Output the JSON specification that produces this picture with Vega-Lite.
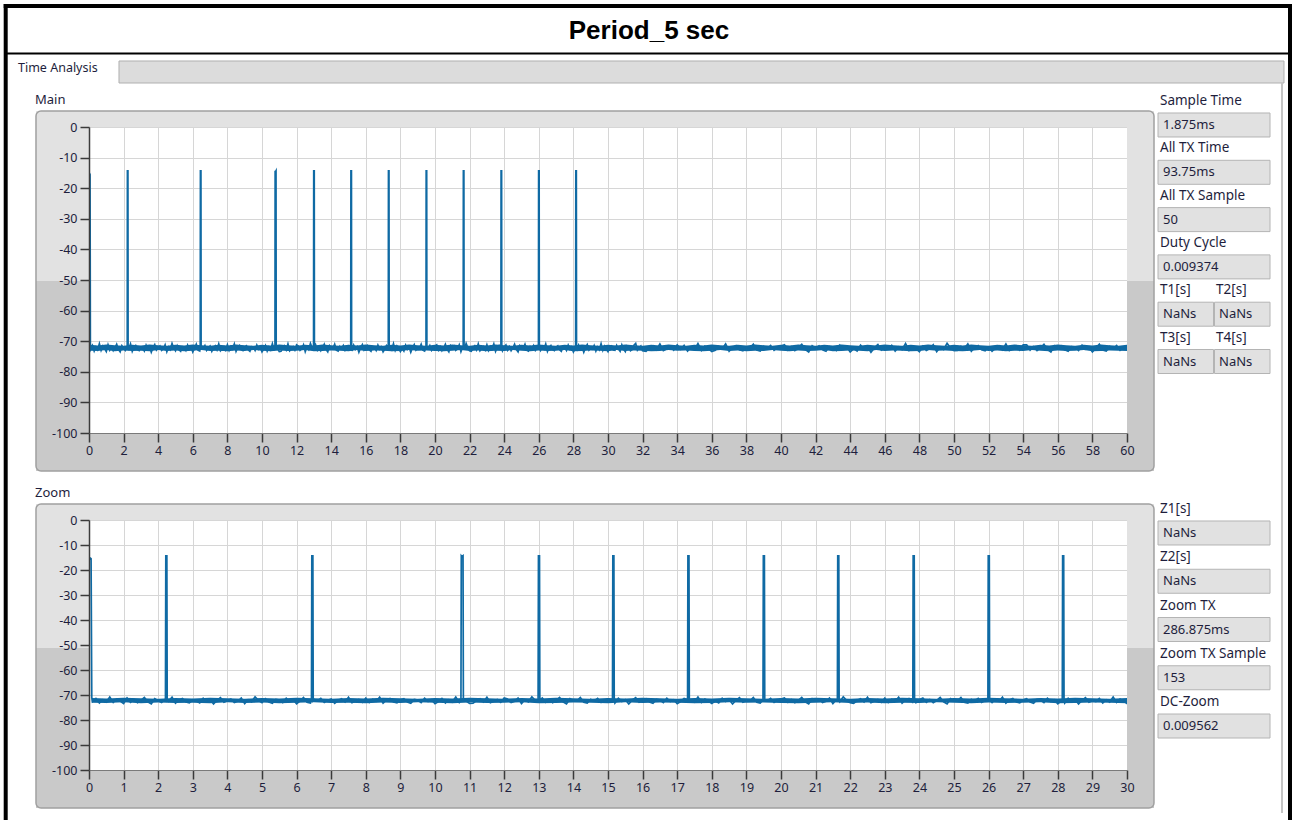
{
"$schema":"https://vega.github.io/schema/vega-lite/v6.json",
"padding":0,
"background":"white",
"columns":2,
"spacing":{"row":87,"column":31},
"bounds":"flush",
"datasets":{
"band":[
{"t":0.08,"hi":-71.2,"lo":-73.1},{"t":0.5,"hi":-71.4,"lo":-73.2},{"t":1.0,"hi":-71.1,"lo":-72.9},{"t":1.5,"hi":-71.3,"lo":-73.3},{"t":2.0,"hi":-71.5,"lo":-73.0},{"t":2.5,"hi":-71.2,"lo":-73.2},{"t":3.0,"hi":-71.4,"lo":-73.1},{"t":3.5,"hi":-71.1,"lo":-73.3},{"t":4.0,"hi":-71.3,"lo":-72.9},{"t":4.5,"hi":-71.5,"lo":-73.2},
{"t":5.0,"hi":-71.2,"lo":-73.0},{"t":5.5,"hi":-71.4,"lo":-73.3},{"t":6.0,"hi":-71.1,"lo":-73.1},{"t":6.5,"hi":-71.3,"lo":-72.9},{"t":7.0,"hi":-71.5,"lo":-73.2},{"t":7.5,"hi":-71.2,"lo":-73.1},{"t":8.0,"hi":-71.4,"lo":-73.3},{"t":8.5,"hi":-71.1,"lo":-73.0},{"t":9.0,"hi":-71.3,"lo":-73.2},{"t":9.5,"hi":-71.5,"lo":-72.9},
{"t":10.0,"hi":-71.2,"lo":-73.1},{"t":10.5,"hi":-71.4,"lo":-73.3},{"t":11.0,"hi":-71.1,"lo":-73.0},{"t":11.5,"hi":-71.3,"lo":-73.2},{"t":12.0,"hi":-71.5,"lo":-73.1},{"t":12.5,"hi":-71.2,"lo":-72.9},{"t":13.0,"hi":-71.4,"lo":-73.3},{"t":13.5,"hi":-71.1,"lo":-73.2},{"t":14.0,"hi":-71.3,"lo":-73.0},{"t":14.5,"hi":-71.5,"lo":-73.1},
{"t":15.0,"hi":-71.2,"lo":-73.3},{"t":15.5,"hi":-71.4,"lo":-72.9},{"t":16.0,"hi":-71.1,"lo":-73.2},{"t":16.5,"hi":-71.3,"lo":-73.0},{"t":17.0,"hi":-71.5,"lo":-73.1},{"t":17.5,"hi":-71.2,"lo":-73.3},{"t":18.0,"hi":-71.4,"lo":-73.2},{"t":18.5,"hi":-71.1,"lo":-72.9},{"t":19.0,"hi":-71.3,"lo":-73.1},{"t":19.5,"hi":-71.5,"lo":-73.0},
{"t":20.0,"hi":-71.2,"lo":-73.2},{"t":20.5,"hi":-71.4,"lo":-73.3},{"t":21.0,"hi":-71.1,"lo":-73.1},{"t":21.5,"hi":-71.3,"lo":-72.9},{"t":22.0,"hi":-71.5,"lo":-73.2},{"t":22.5,"hi":-71.2,"lo":-73.0},{"t":23.0,"hi":-71.4,"lo":-73.3},{"t":23.5,"hi":-71.1,"lo":-73.1},{"t":24.0,"hi":-71.3,"lo":-73.2},{"t":24.5,"hi":-71.5,"lo":-72.9},
{"t":25.0,"hi":-71.2,"lo":-73.1},{"t":25.5,"hi":-71.4,"lo":-73.3},{"t":26.0,"hi":-71.1,"lo":-73.0},{"t":26.5,"hi":-71.3,"lo":-73.2},{"t":27.0,"hi":-71.5,"lo":-73.1},{"t":27.5,"hi":-71.2,"lo":-72.9},{"t":28.0,"hi":-71.4,"lo":-73.3},{"t":28.5,"hi":-71.1,"lo":-73.2},{"t":29.0,"hi":-71.3,"lo":-73.0},{"t":29.5,"hi":-71.5,"lo":-73.1},
{"t":30.0,"hi":-71.2,"lo":-73.3},{"t":30.5,"hi":-71.4,"lo":-72.9},{"t":31.0,"hi":-71.1,"lo":-73.2},{"t":31.5,"hi":-71.3,"lo":-73.0},{"t":32.0,"hi":-71.5,"lo":-73.1},{"t":32.5,"hi":-71.2,"lo":-73.3},{"t":33.0,"hi":-71.4,"lo":-73.2},{"t":33.5,"hi":-71.1,"lo":-72.9},{"t":34.0,"hi":-71.3,"lo":-73.1},{"t":34.5,"hi":-71.5,"lo":-73.0},
{"t":35.0,"hi":-71.2,"lo":-73.2},{"t":35.5,"hi":-71.4,"lo":-73.3},{"t":36.0,"hi":-71.1,"lo":-73.1},{"t":36.5,"hi":-71.3,"lo":-72.9},{"t":37.0,"hi":-71.5,"lo":-73.2},{"t":37.5,"hi":-71.2,"lo":-73.0},{"t":38.0,"hi":-71.4,"lo":-73.3},{"t":38.5,"hi":-71.1,"lo":-73.1},{"t":39.0,"hi":-71.3,"lo":-73.2},{"t":39.5,"hi":-71.5,"lo":-72.9},
{"t":40.0,"hi":-71.2,"lo":-73.1},{"t":40.5,"hi":-71.4,"lo":-73.3},{"t":41.0,"hi":-71.1,"lo":-73.0},{"t":41.5,"hi":-71.3,"lo":-73.2},{"t":42.0,"hi":-71.5,"lo":-73.1},{"t":42.5,"hi":-71.2,"lo":-72.9},{"t":43.0,"hi":-71.4,"lo":-73.3},{"t":43.5,"hi":-71.1,"lo":-73.2},{"t":44.0,"hi":-71.3,"lo":-73.0},{"t":44.5,"hi":-71.5,"lo":-73.1},
{"t":45.0,"hi":-71.2,"lo":-73.3},{"t":45.5,"hi":-71.4,"lo":-72.9},{"t":46.0,"hi":-71.1,"lo":-73.2},{"t":46.5,"hi":-71.3,"lo":-73.0},{"t":47.0,"hi":-71.5,"lo":-73.1},{"t":47.5,"hi":-71.2,"lo":-73.3},{"t":48.0,"hi":-71.4,"lo":-73.2},{"t":48.5,"hi":-71.1,"lo":-72.9},{"t":49.0,"hi":-71.3,"lo":-73.1},{"t":49.5,"hi":-71.5,"lo":-73.0},
{"t":50.0,"hi":-71.2,"lo":-73.2},{"t":50.5,"hi":-71.4,"lo":-73.3},{"t":51.0,"hi":-71.1,"lo":-73.1},{"t":51.5,"hi":-71.3,"lo":-72.9},{"t":52.0,"hi":-71.5,"lo":-73.2},{"t":52.5,"hi":-71.2,"lo":-73.0},{"t":53.0,"hi":-71.4,"lo":-73.3},{"t":53.5,"hi":-71.1,"lo":-73.1},{"t":54.0,"hi":-71.3,"lo":-73.2},{"t":54.5,"hi":-71.5,"lo":-72.9},
{"t":55.0,"hi":-71.2,"lo":-73.1},{"t":55.5,"hi":-71.4,"lo":-73.3},{"t":56.0,"hi":-71.1,"lo":-73.0},{"t":56.5,"hi":-71.3,"lo":-73.2},{"t":57.0,"hi":-71.5,"lo":-73.1},{"t":57.5,"hi":-71.2,"lo":-72.9},{"t":58.0,"hi":-71.4,"lo":-73.3},{"t":58.5,"hi":-71.1,"lo":-73.2},{"t":59.0,"hi":-71.3,"lo":-73.0},{"t":59.5,"hi":-71.5,"lo":-73.1},
{"t":60.0,"hi":-71.2,"lo":-73.2}
],
"sig":[
{"t":0,"v":-15.4},{"t":0.02,"v":-15.6},{"t":0.04,"v":-15.3},{"t":0.06,"v":-15.5},{"t":0.08,"v":-71.0},
{"t":0.1,"v":-72.6},{"t":0.2,"v":-71.4},{"t":0.3,"v":-73.2},{"t":0.4,"v":-71.9},{"t":0.5,"v":-72.8},{"t":0.6,"v":-70.8},{"t":0.7,"v":-73.0},{"t":0.8,"v":-71.6},{"t":0.9,"v":-72.4},{"t":1.0,"v":-73.4},
{"t":1.1,"v":-71.2},{"t":1.2,"v":-72.9},{"t":1.3,"v":-71.8},{"t":1.4,"v":-73.1},{"t":1.5,"v":-72.2},{"t":1.6,"v":-71.0},{"t":1.7,"v":-72.7},{"t":1.8,"v":-73.5},{"t":1.9,"v":-71.5},{"t":2.0,"v":-72.3},
{"t":2.1,"v":-73.0},{"t":2.2,"v":-71.7},{"t":2.21,"v":-71.9},{"t":2.22,"v":-14.3},{"t":2.25,"v":-14.3},{"t":2.26,"v":-72.1},{"t":2.3,"v":-72.5},{"t":2.4,"v":-70.9},{"t":2.5,"v":-73.3},{"t":2.6,"v":-72.0},{"t":2.7,"v":-71.4},{"t":2.8,"v":-72.8},{"t":2.9,"v":-73.1},{"t":3.0,"v":-71.9},
{"t":3.1,"v":-72.4},{"t":3.2,"v":-73.2},{"t":3.3,"v":-71.3},{"t":3.4,"v":-72.6},{"t":3.5,"v":-71.8},{"t":3.6,"v":-73.6},{"t":3.7,"v":-72.1},{"t":3.8,"v":-71.1},{"t":3.9,"v":-72.9},{"t":4.0,"v":-72.3},
{"t":4.1,"v":-71.6},{"t":4.2,"v":-73.0},{"t":4.3,"v":-72.5},{"t":4.4,"v":-71.2},{"t":4.5,"v":-73.4},{"t":4.6,"v":-71.9},{"t":4.7,"v":-72.7},{"t":4.8,"v":-70.7},{"t":4.9,"v":-72.2},{"t":5.0,"v":-73.1},
{"t":5.1,"v":-71.5},{"t":5.2,"v":-72.8},{"t":5.3,"v":-73.3},{"t":5.4,"v":-71.8},{"t":5.5,"v":-72.0},{"t":5.6,"v":-73.0},{"t":5.7,"v":-71.3},{"t":5.8,"v":-72.6},{"t":5.9,"v":-71.9},{"t":6.0,"v":-73.5},
{"t":6.1,"v":-72.3},{"t":6.2,"v":-71.0},{"t":6.3,"v":-72.9},{"t":6.4,"v":-73.2},{"t":6.43,"v":-71.9},{"t":6.44,"v":-14.3},{"t":6.47,"v":-14.3},{"t":6.48,"v":-72.1},{"t":6.5,"v":-71.7},{"t":6.6,"v":-72.4},{"t":6.7,"v":-71.4},{"t":6.8,"v":-73.0},{"t":6.9,"v":-72.1},{"t":7.0,"v":-71.6},
{"t":7.1,"v":-73.3},{"t":7.2,"v":-72.2},{"t":7.3,"v":-71.5},{"t":7.4,"v":-72.8},{"t":7.5,"v":-70.9},{"t":7.6,"v":-73.1},{"t":7.7,"v":-72.5},{"t":7.8,"v":-71.8},{"t":7.9,"v":-72.9},{"t":8.0,"v":-71.2},
{"t":8.1,"v":-73.0},{"t":8.2,"v":-71.7},{"t":8.3,"v":-72.5},{"t":8.4,"v":-70.9},{"t":8.5,"v":-73.3},{"t":8.6,"v":-72.0},{"t":8.7,"v":-71.4},{"t":8.8,"v":-72.8},{"t":8.9,"v":-73.1},{"t":9.0,"v":-71.9},
{"t":9.1,"v":-71.5},{"t":9.2,"v":-72.8},{"t":9.3,"v":-73.3},{"t":9.4,"v":-71.8},{"t":9.5,"v":-72.0},{"t":9.6,"v":-73.0},{"t":9.7,"v":-71.3},{"t":9.8,"v":-72.6},{"t":9.9,"v":-71.9},{"t":10.0,"v":-73.5},
{"t":10.1,"v":-72.6},{"t":10.2,"v":-71.4},{"t":10.3,"v":-73.2},{"t":10.4,"v":-71.9},{"t":10.5,"v":-72.8},{"t":10.6,"v":-70.8},{"t":10.7,"v":-73.0},{"t":10.75,"v":-71.9},{"t":10.76,"v":-14.3},{"t":10.78,"v":-14.6},{"t":10.81,"v":-14.3},{"t":10.82,"v":-72.0},{"t":10.9,"v":-72.4},{"t":11.0,"v":-73.4},
{"t":11.1,"v":-73.3},{"t":11.2,"v":-72.2},{"t":11.3,"v":-71.5},{"t":11.4,"v":-72.8},{"t":11.5,"v":-70.9},{"t":11.6,"v":-73.1},{"t":11.7,"v":-72.5},{"t":11.8,"v":-71.8},{"t":11.9,"v":-72.9},{"t":12.0,"v":-71.2},
{"t":12.1,"v":-71.6},{"t":12.2,"v":-73.0},{"t":12.3,"v":-72.5},{"t":12.4,"v":-71.2},{"t":12.5,"v":-73.4},{"t":12.6,"v":-71.9},{"t":12.7,"v":-72.7},{"t":12.8,"v":-70.7},{"t":12.9,"v":-72.2},{"t":12.98,"v":-71.9},{"t":12.99,"v":-14.3},{"t":13.02,"v":-14.3},{"t":13.03,"v":-72.1},
{"t":13.1,"v":-71.2},{"t":13.2,"v":-72.9},{"t":13.3,"v":-71.8},{"t":13.4,"v":-73.1},{"t":13.5,"v":-72.2},{"t":13.6,"v":-71.0},{"t":13.7,"v":-72.7},{"t":13.8,"v":-73.5},{"t":13.9,"v":-71.5},{"t":14.0,"v":-72.3},
{"t":14.1,"v":-72.3},{"t":14.2,"v":-71.0},{"t":14.3,"v":-72.9},{"t":14.4,"v":-73.2},{"t":14.5,"v":-71.7},{"t":14.6,"v":-72.4},{"t":14.7,"v":-71.4},{"t":14.8,"v":-73.0},{"t":14.9,"v":-72.1},{"t":15.0,"v":-71.6},
{"t":15.1,"v":-72.4},{"t":15.13,"v":-71.9},{"t":15.14,"v":-14.3},{"t":15.17,"v":-14.3},{"t":15.18,"v":-72.1},{"t":15.2,"v":-73.2},{"t":15.3,"v":-71.3},{"t":15.4,"v":-72.6},{"t":15.5,"v":-71.8},{"t":15.6,"v":-73.6},{"t":15.7,"v":-72.1},{"t":15.8,"v":-71.1},{"t":15.9,"v":-72.9},{"t":16.0,"v":-72.3},
{"t":16.1,"v":-71.5},{"t":16.2,"v":-72.8},{"t":16.3,"v":-73.3},{"t":16.4,"v":-71.8},{"t":16.5,"v":-72.0},{"t":16.6,"v":-73.0},{"t":16.7,"v":-71.3},{"t":16.8,"v":-72.6},{"t":16.9,"v":-71.9},{"t":17.0,"v":-73.5},
{"t":17.1,"v":-72.6},{"t":17.2,"v":-71.4},{"t":17.3,"v":-71.9},{"t":17.31,"v":-14.3},{"t":17.34,"v":-14.3},{"t":17.35,"v":-72.1},{"t":17.4,"v":-71.9},{"t":17.5,"v":-72.8},{"t":17.6,"v":-70.8},{"t":17.7,"v":-73.0},{"t":17.8,"v":-71.6},{"t":17.9,"v":-72.4},{"t":18.0,"v":-73.4},
{"t":18.1,"v":-72.4},{"t":18.2,"v":-73.2},{"t":18.3,"v":-71.3},{"t":18.4,"v":-72.6},{"t":18.5,"v":-71.8},{"t":18.6,"v":-73.6},{"t":18.7,"v":-72.1},{"t":18.8,"v":-71.1},{"t":18.9,"v":-72.9},{"t":19.0,"v":-72.3},
{"t":19.1,"v":-72.3},{"t":19.2,"v":-71.0},{"t":19.3,"v":-72.9},{"t":19.4,"v":-73.2},{"t":19.48,"v":-71.9},{"t":19.49,"v":-14.3},{"t":19.52,"v":-14.3},{"t":19.53,"v":-72.1},{"t":19.6,"v":-72.4},{"t":19.7,"v":-71.4},{"t":19.8,"v":-73.0},{"t":19.9,"v":-72.1},{"t":20.0,"v":-71.6},
{"t":20.1,"v":-71.2},{"t":20.2,"v":-72.9},{"t":20.3,"v":-71.8},{"t":20.4,"v":-73.1},{"t":20.5,"v":-72.2},{"t":20.6,"v":-71.0},{"t":20.7,"v":-72.7},{"t":20.8,"v":-73.5},{"t":20.9,"v":-71.5},{"t":21.0,"v":-72.3},
{"t":21.1,"v":-71.6},{"t":21.2,"v":-73.0},{"t":21.3,"v":-72.5},{"t":21.4,"v":-71.2},{"t":21.5,"v":-73.4},{"t":21.6,"v":-71.9},{"t":21.63,"v":-71.9},{"t":21.64,"v":-14.3},{"t":21.67,"v":-14.3},{"t":21.68,"v":-72.1},{"t":21.7,"v":-72.7},{"t":21.8,"v":-70.7},{"t":21.9,"v":-72.2},{"t":22.0,"v":-73.1},
{"t":22.1,"v":-73.3},{"t":22.2,"v":-72.2},{"t":22.3,"v":-71.5},{"t":22.4,"v":-72.8},{"t":22.5,"v":-70.9},{"t":22.6,"v":-73.1},{"t":22.7,"v":-72.5},{"t":22.8,"v":-71.8},{"t":22.9,"v":-72.9},{"t":23.0,"v":-71.2},
{"t":23.1,"v":-73.0},{"t":23.2,"v":-71.7},{"t":23.3,"v":-72.5},{"t":23.4,"v":-70.9},{"t":23.5,"v":-73.3},{"t":23.6,"v":-72.0},{"t":23.7,"v":-71.4},{"t":23.8,"v":-72.8},{"t":23.81,"v":-71.9},{"t":23.82,"v":-14.3},{"t":23.85,"v":-14.3},{"t":23.86,"v":-72.1},{"t":23.9,"v":-73.1},{"t":24.0,"v":-71.9},
{"t":24.1,"v":-71.2},{"t":24.2,"v":-72.9},{"t":24.3,"v":-71.8},{"t":24.4,"v":-73.1},{"t":24.5,"v":-72.2},{"t":24.6,"v":-71.0},{"t":24.7,"v":-72.7},{"t":24.8,"v":-73.5},{"t":24.9,"v":-71.5},{"t":25.0,"v":-72.3},
{"t":25.1,"v":-72.3},{"t":25.2,"v":-71.0},{"t":25.3,"v":-72.9},{"t":25.4,"v":-73.2},{"t":25.5,"v":-71.7},{"t":25.6,"v":-72.4},{"t":25.7,"v":-71.4},{"t":25.8,"v":-73.0},{"t":25.9,"v":-72.1},{"t":25.98,"v":-71.9},{"t":25.99,"v":-14.3},{"t":26.02,"v":-14.3},{"t":26.03,"v":-72.1},
{"t":26.1,"v":-73.0},{"t":26.2,"v":-71.7},{"t":26.3,"v":-72.5},{"t":26.4,"v":-70.9},{"t":26.5,"v":-73.3},{"t":26.6,"v":-72.0},{"t":26.7,"v":-71.4},{"t":26.8,"v":-72.8},{"t":26.9,"v":-73.1},{"t":27.0,"v":-71.9},
{"t":27.1,"v":-71.5},{"t":27.2,"v":-72.8},{"t":27.3,"v":-73.3},{"t":27.4,"v":-71.8},{"t":27.5,"v":-72.0},{"t":27.6,"v":-73.0},{"t":27.7,"v":-71.3},{"t":27.8,"v":-72.6},{"t":27.9,"v":-71.9},{"t":28.0,"v":-73.5},
{"t":28.1,"v":-72.4},{"t":28.13,"v":-71.9},{"t":28.14,"v":-14.3},{"t":28.17,"v":-14.3},{"t":28.18,"v":-72.1},{"t":28.2,"v":-73.2},{"t":28.3,"v":-71.3},{"t":28.4,"v":-72.6},{"t":28.5,"v":-71.8},{"t":28.6,"v":-73.6},{"t":28.7,"v":-72.1},{"t":28.8,"v":-71.1},{"t":28.9,"v":-72.9},{"t":29.0,"v":-72.3},
{"t":29.1,"v":-72.6},{"t":29.2,"v":-71.4},{"t":29.3,"v":-73.2},{"t":29.4,"v":-71.9},{"t":29.5,"v":-72.8},{"t":29.6,"v":-70.8},{"t":29.7,"v":-73.0},{"t":29.8,"v":-71.6},{"t":29.9,"v":-72.4},{"t":30.0,"v":-73.4},
{"t":30.1,"v":-72.0},{"t":30.2,"v":-71.6},{"t":30.3,"v":-72.9},{"t":30.4,"v":-73.0},{"t":30.5,"v":-71.4},{"t":30.6,"v":-72.5},{"t":30.7,"v":-73.3},{"t":30.8,"v":-71.2},{"t":30.9,"v":-72.6},{"t":31.0,"v":-73.4},{"t":31.1,"v":-71.5},{"t":31.2,"v":-71.9},{"t":31.3,"v":-73.1},{"t":31.4,"v":-72.7},{"t":31.5,"v":-71.3},{"t":31.6,"v":-70.7},{"t":31.7,"v":-72.9},{"t":31.8,"v":-72.2},{"t":31.9,"v":-71.6},{"t":32.0,"v":-73.1},
{"t":32.2,"v":-73.3},{"t":32.4,"v":-72.2},{"t":32.6,"v":-71.5},{"t":32.8,"v":-72.8},{"t":33.0,"v":-70.9},{"t":33.2,"v":-73.1},{"t":33.4,"v":-72.5},{"t":33.6,"v":-71.8},{"t":33.8,"v":-72.9},{"t":34.0,"v":-71.2},
{"t":34.2,"v":-72.6},{"t":34.4,"v":-71.4},{"t":34.6,"v":-73.2},{"t":34.8,"v":-71.9},{"t":35.0,"v":-72.8},{"t":35.2,"v":-70.8},{"t":35.4,"v":-73.0},{"t":35.6,"v":-71.6},{"t":35.8,"v":-72.4},{"t":36.0,"v":-73.4},
{"t":36.2,"v":-73.0},{"t":36.4,"v":-71.7},{"t":36.6,"v":-72.5},{"t":36.8,"v":-70.9},{"t":37.0,"v":-73.3},{"t":37.2,"v":-72.0},{"t":37.4,"v":-71.4},{"t":37.6,"v":-72.8},{"t":37.8,"v":-73.1},{"t":38.0,"v":-71.9},
{"t":38.2,"v":-72.3},{"t":38.4,"v":-71.0},{"t":38.6,"v":-72.9},{"t":38.8,"v":-73.2},{"t":39.0,"v":-71.7},{"t":39.2,"v":-72.4},{"t":39.4,"v":-71.4},{"t":39.6,"v":-73.0},{"t":39.8,"v":-72.1},{"t":40.0,"v":-71.6},
{"t":40.2,"v":-71.2},{"t":40.4,"v":-72.9},{"t":40.6,"v":-71.8},{"t":40.8,"v":-73.1},{"t":41.0,"v":-72.2},{"t":41.2,"v":-71.0},{"t":41.4,"v":-72.7},{"t":41.6,"v":-73.5},{"t":41.8,"v":-71.5},{"t":42.0,"v":-72.3},
{"t":42.2,"v":-71.5},{"t":42.4,"v":-72.8},{"t":42.6,"v":-73.3},{"t":42.8,"v":-71.8},{"t":43.0,"v":-72.0},{"t":43.2,"v":-73.0},{"t":43.4,"v":-71.3},{"t":43.6,"v":-72.6},{"t":43.8,"v":-71.9},{"t":44.0,"v":-73.5},
{"t":44.2,"v":-72.4},{"t":44.4,"v":-73.2},{"t":44.6,"v":-71.3},{"t":44.8,"v":-72.6},{"t":45.0,"v":-71.8},{"t":45.2,"v":-73.6},{"t":45.4,"v":-72.1},{"t":45.6,"v":-71.1},{"t":45.8,"v":-72.9},{"t":46.0,"v":-72.3},
{"t":46.2,"v":-72.6},{"t":46.4,"v":-71.4},{"t":46.6,"v":-73.2},{"t":46.8,"v":-71.9},{"t":47.0,"v":-72.8},{"t":47.2,"v":-70.8},{"t":47.4,"v":-73.0},{"t":47.6,"v":-71.6},{"t":47.8,"v":-72.4},{"t":48.0,"v":-73.4},
{"t":48.2,"v":-71.6},{"t":48.4,"v":-73.0},{"t":48.6,"v":-72.5},{"t":48.8,"v":-71.2},{"t":49.0,"v":-73.4},{"t":49.2,"v":-71.9},{"t":49.4,"v":-72.7},{"t":49.6,"v":-70.7},{"t":49.8,"v":-72.2},{"t":50.0,"v":-73.1},
{"t":50.2,"v":-73.0},{"t":50.4,"v":-71.7},{"t":50.6,"v":-72.5},{"t":50.8,"v":-70.9},{"t":51.0,"v":-73.3},{"t":51.2,"v":-72.0},{"t":51.4,"v":-71.4},{"t":51.6,"v":-72.8},{"t":51.8,"v":-73.1},{"t":52.0,"v":-71.9},
{"t":52.2,"v":-73.3},{"t":52.4,"v":-72.2},{"t":52.6,"v":-71.5},{"t":52.8,"v":-72.8},{"t":53.0,"v":-70.9},{"t":53.2,"v":-73.1},{"t":53.4,"v":-72.5},{"t":53.6,"v":-71.8},{"t":53.8,"v":-72.9},{"t":54.0,"v":-71.2},
{"t":54.2,"v":-71.2},{"t":54.4,"v":-72.9},{"t":54.6,"v":-71.8},{"t":54.8,"v":-73.1},{"t":55.0,"v":-72.2},{"t":55.2,"v":-71.0},{"t":55.4,"v":-72.7},{"t":55.6,"v":-73.5},{"t":55.8,"v":-71.5},{"t":56.0,"v":-72.3},
{"t":56.2,"v":-71.5},{"t":56.4,"v":-72.8},{"t":56.6,"v":-73.3},{"t":56.8,"v":-71.8},{"t":57.0,"v":-72.0},{"t":57.2,"v":-73.0},{"t":57.4,"v":-71.3},{"t":57.6,"v":-72.6},{"t":57.8,"v":-71.9},{"t":58.0,"v":-73.5},
{"t":58.2,"v":-72.3},{"t":58.4,"v":-71.0},{"t":58.6,"v":-72.9},{"t":58.8,"v":-73.2},{"t":59.0,"v":-71.7},{"t":59.2,"v":-72.4},{"t":59.4,"v":-71.4},{"t":59.6,"v":-73.0},{"t":59.8,"v":-72.1},{"t":60.0,"v":-71.6}
],
"info1":[
{"item":"Sample Time","value":"1.875ms","line":0,"part":"full"},
{"item":"All TX Time","value":"93.75ms","line":1,"part":"full"},
{"item":"All TX Sample","value":"50","line":2,"part":"full"},
{"item":"Duty Cycle","value":"0.009374","line":3,"part":"full"},
{"item":"T1[s]","value":"NaNs","line":4,"part":"left"},
{"item":"T2[s]","value":"NaNs","line":4,"part":"right"},
{"item":"T3[s]","value":"NaNs","line":5,"part":"left"},
{"item":"T4[s]","value":"NaNs","line":5,"part":"right"}
],
"info2":[
{"item":"Z1[s]","value":"NaNs","line":0,"part":"full"},
{"item":"Z2[s]","value":"NaNs","line":1,"part":"full"},
{"item":"Zoom TX","value":"286.875ms","line":2,"part":"full"},
{"item":"Zoom TX Sample","value":"153","line":3,"part":"full"},
{"item":"DC-Zoom","value":"0.009562","line":4,"part":"full"}
]
},
"concat":[
{
"width":1038,"height":306,
"view":{"stroke":"#8c8c8c"},
"resolve":{"axis":{"x":"independent","y":"independent"}},
"layer":[
{"data":{"values":[{}]},"mark":{"type":"rect","fill":"transparent","strokeWidth":0},"encoding":{"x":{"datum":-5.0867,"axis":null},"x2":{"datum":69.59},"y":{"datum":41.17,"axis":null},"y2":{"datum":-227.1}}},
{"data":{"values":[{}]},"mark":{"type":"rect","fill":"#e2e2e2","strokeWidth":0},"encoding":{"x":{"datum":-3.064,"axis":null},"x2":{"datum":61.561},"y":{"datum":5.229,"axis":null},"y2":{"datum":0}}},
{"data":{"values":[{}]},"mark":{"type":"rect","fill":"#e2e2e2","strokeWidth":0},"encoding":{"x":{"datum":-3.064,"axis":null},"x2":{"datum":0},"y":{"datum":0,"axis":null},"y2":{"datum":-50.3}}},
{"data":{"values":[{}]},"mark":{"type":"rect","fill":"#e2e2e2","strokeWidth":0},"encoding":{"x":{"datum":60,"axis":null},"x2":{"datum":61.561},"y":{"datum":0,"axis":null},"y2":{"datum":-50.3}}},
{"data":{"values":[{}]},"mark":{"type":"rect","fill":"#c9c9c9","strokeWidth":0},"encoding":{"x":{"datum":-3.064,"axis":null},"x2":{"datum":0},"y":{"datum":-50.3,"axis":null},"y2":{"datum":-112.418}}},
{"data":{"values":[{}]},"mark":{"type":"rect","fill":"#c9c9c9","strokeWidth":0},"encoding":{"x":{"datum":60,"axis":null},"x2":{"datum":61.561},"y":{"datum":-50.3,"axis":null},"y2":{"datum":-112.418}}},
{"data":{"values":[{}]},"mark":{"type":"rect","fill":"#c9c9c9","strokeWidth":0},"encoding":{"x":{"datum":-3.064,"axis":null},"x2":{"datum":61.561},"y":{"datum":-100,"axis":null},"y2":{"datum":-112.418}}},
{"data":{"name":"band"},"mark":{"type":"area","color":"#0f6aa4","opacity":1,"clip":true},"encoding":{"x":{"field":"t","type":"quantitative","axis":null},"y":{"field":"hi","type":"quantitative","axis":null},"y2":{"field":"lo"}}},
{"data":{"name":"sig"},"mark":{"type":"line","color":"#0f6aa4","strokeWidth":1.7,"clip":true},
"encoding":{
"x":{"field":"t","type":"quantitative","scale":{"domain":[0,60],"nice":false,"zero":false},"axis":{"orient":"bottom","grid":true,"labels":false,"ticks":false,"domain":false,"title":null,"values":[0,2,4,6,8,10,12,14,16,18,20,22,24,26,28,30,32,34,36,38,40,42,44,46,48,50,52,54,56,58,60],"gridColor":"#d6d6d6","zindex":0}},
"y":{"field":"v","type":"quantitative","scale":{"domain":[-100,0],"nice":false,"zero":false},"axis":{"orient":"left","grid":true,"labels":false,"ticks":false,"domain":false,"title":null,"values":[-100,-90,-80,-70,-60,-50,-40,-30,-20,-10,0],"gridColor":"#d6d6d6","zindex":0}}}},
{"data":{"values":[{}]},"mark":{"type":"rect","fill":"transparent","stroke":"#a0a0a0","strokeWidth":1.5,"cornerRadius":5},
"encoding":{
"x":{"datum":-3.064,"axis":{"orient":"bottom","grid":false,"title":null,"values":[0,2,4,6,8,10,12,14,16,18,20,22,24,26,28,30,32,34,36,38,40,42,44,46,48,50,52,54,56,58,60],"tickSize":9,"labelPadding":2,"domainColor":"#7a7a7a","domainWidth":1,"zindex":1}},
"x2":{"datum":61.561},
"y":{"datum":5.229,"axis":{"orient":"left","grid":false,"title":null,"values":[-100,-90,-80,-70,-60,-50,-40,-30,-20,-10,0],"tickSize":9,"labelPadding":3,"domainColor":"#3c3c3c","domainWidth":1.5,"labelExpr":"'' + datum.value","zindex":1}},
"y2":{"datum":-112.418}}},
{"data":{"values":[{"txt":"Period_5 sec"}]},"mark":{"type":"text","font":"Liberation Sans","fontWeight":"bold","fontSize":26,"color":"#000000","align":"center","baseline":"middle"},"encoding":{"x":{"datum":32.37,"axis":null},"y":{"datum":31.37,"axis":null},"text":{"field":"txt"}}},
{"data":{"values":[{}]},"mark":{"type":"rule","color":"#000000","strokeWidth":4},"encoding":{"x":{"datum":-4.93,"axis":null},"x2":{"datum":69.538},"y":{"datum":39.542,"axis":null}}},
{"data":{"values":[{}]},"mark":{"type":"rule","color":"#000000","strokeWidth":4},"encoding":{"x":{"datum":-4.815,"axis":null},"y":{"datum":40.196,"axis":null},"y2":{"datum":-226.47}}},
{"data":{"values":[{}]},"mark":{"type":"rule","color":"#000000","strokeWidth":4},"encoding":{"x":{"datum":69.422,"axis":null},"y":{"datum":40.196,"axis":null},"y2":{"datum":-226.47}}},
{"data":{"values":[{}]},"mark":{"type":"rule","color":"#000000","strokeWidth":2},"encoding":{"x":{"datum":-4.815,"axis":null},"x2":{"datum":69.422},"y":{"datum":24.02,"axis":null}}},
{"data":{"values":[{}]},"mark":{"type":"rect","fill":"#dcdcdc","stroke":"#b0b0b0","strokeWidth":1},"encoding":{"x":{"datum":1.734,"axis":null},"x2":{"datum":69.075},"y":{"datum":21.569,"axis":null},"y2":{"datum":14.379}}},
{"data":{"values":[{}]},"mark":{"type":"rule","color":"#c4c4c4","strokeWidth":2},"encoding":{"x":{"datum":68.96,"axis":null},"y":{"datum":14.379,"axis":null},"y2":{"datum":-224.18}}},
{"data":{"values":[{"txt":"Time Analysis"}]},"mark":{"type":"text","fontSize":12.5,"align":"left","baseline":"middle"},"encoding":{"x":{"datum":-4.104,"axis":null},"y":{"datum":19.281,"axis":null},"text":{"field":"txt"}}},
{"data":{"values":[{"txt":"Main"}]},"mark":{"type":"text","fontSize":13,"align":"left","baseline":"middle"},"encoding":{"x":{"datum":-3.121,"axis":null},"y":{"datum":8.824,"axis":null},"text":{"field":"txt"}}}
]
},
{
"width":112,"height":306,
"view":{"stroke":null},
"data":{"name":"info1"},
"layer":[
{"transform":[{"filter":"datum.part == 'full'"}],"mark":{"type":"rect","fill":"#e1e1e1","stroke":"#b4b4b4","strokeWidth":1,"yOffset":12,"y2Offset":36},"encoding":{"x":{"datum":0,"scale":{"domain":[0,112],"nice":false,"zero":false},"axis":null},"x2":{"datum":112},"y":{"field":"line","type":"quantitative","scale":{"domain":[0.5497,7.019],"reverse":true,"nice":false,"zero":false},"axis":null},"y2":{"field":"line"}}},
{"transform":[{"filter":"datum.part == 'left'"}],"mark":{"type":"rect","fill":"#e1e1e1","stroke":"#b4b4b4","strokeWidth":1,"yOffset":12,"y2Offset":36},"encoding":{"x":{"datum":0,"axis":null},"x2":{"datum":55.5},"y":{"field":"line","type":"quantitative","axis":null},"y2":{"field":"line"}}},
{"transform":[{"filter":"datum.part == 'right'"}],"mark":{"type":"rect","fill":"#e1e1e1","stroke":"#b4b4b4","strokeWidth":1,"yOffset":12,"y2Offset":36},"encoding":{"x":{"datum":56.5,"axis":null},"x2":{"datum":112},"y":{"field":"line","type":"quantitative","axis":null},"y2":{"field":"line"}}},
{"transform":[{"filter":"datum.part != 'right'"}],"mark":{"type":"text","fontSize":13.5,"align":"left","baseline":"middle"},"encoding":{"x":{"datum":2,"axis":null},"y":{"field":"line","type":"quantitative","axis":null},"text":{"field":"item"}}},
{"transform":[{"filter":"datum.part == 'right'"}],"mark":{"type":"text","fontSize":13.5,"align":"left","baseline":"middle"},"encoding":{"x":{"datum":58,"axis":null},"y":{"field":"line","type":"quantitative","axis":null},"text":{"field":"item"}}},
{"transform":[{"filter":"datum.part != 'right'"}],"mark":{"type":"text","fontSize":13,"align":"left","baseline":"middle","yOffset":24},"encoding":{"x":{"datum":5,"axis":null},"y":{"field":"line","type":"quantitative","axis":null},"text":{"field":"value"}}},
{"transform":[{"filter":"datum.part == 'right'"}],"mark":{"type":"text","fontSize":13,"align":"left","baseline":"middle","yOffset":24},"encoding":{"x":{"datum":61,"axis":null},"y":{"field":"line","type":"quantitative","axis":null},"text":{"field":"value"}}}
]
},
{
"width":1038,"height":250,
"view":{"stroke":"#8c8c8c"},
"resolve":{"axis":{"x":"independent","y":"independent"}},
"layer":[
{"data":{"values":[{}]},"mark":{"type":"rect","fill":"#e2e2e2","strokeWidth":0},"encoding":{"x":{"datum":-1.5318,"axis":null},"x2":{"datum":30.78},"y":{"datum":6.4,"axis":null},"y2":{"datum":0}}},
{"data":{"values":[{}]},"mark":{"type":"rect","fill":"#e2e2e2","strokeWidth":0},"encoding":{"x":{"datum":-1.5318,"axis":null},"x2":{"datum":0},"y":{"datum":0,"axis":null},"y2":{"datum":-51.2}}},
{"data":{"values":[{}]},"mark":{"type":"rect","fill":"#e2e2e2","strokeWidth":0},"encoding":{"x":{"datum":30,"axis":null},"x2":{"datum":30.78},"y":{"datum":0,"axis":null},"y2":{"datum":-51.2}}},
{"data":{"values":[{}]},"mark":{"type":"rect","fill":"#c9c9c9","strokeWidth":0},"encoding":{"x":{"datum":-1.5318,"axis":null},"x2":{"datum":0},"y":{"datum":-51.2,"axis":null},"y2":{"datum":-115.2}}},
{"data":{"values":[{}]},"mark":{"type":"rect","fill":"#c9c9c9","strokeWidth":0},"encoding":{"x":{"datum":30,"axis":null},"x2":{"datum":30.78},"y":{"datum":-51.2,"axis":null},"y2":{"datum":-115.2}}},
{"data":{"values":[{}]},"mark":{"type":"rect","fill":"#c9c9c9","strokeWidth":0},"encoding":{"x":{"datum":-1.5318,"axis":null},"x2":{"datum":30.78},"y":{"datum":-100,"axis":null},"y2":{"datum":-115.2}}},
{"data":{"name":"band"},"mark":{"type":"area","color":"#0f6aa4","opacity":1,"clip":true},"encoding":{"x":{"field":"t","type":"quantitative","axis":null},"y":{"field":"hi","type":"quantitative","axis":null},"y2":{"field":"lo"}}},
{"data":{"name":"sig"},"mark":{"type":"line","color":"#0f6aa4","strokeWidth":1.7,"clip":true},
"encoding":{
"x":{"field":"t","type":"quantitative","scale":{"domain":[0,30],"nice":false,"zero":false},"axis":{"orient":"bottom","grid":true,"labels":false,"ticks":false,"domain":false,"title":null,"values":[0,1,2,3,4,5,6,7,8,9,10,11,12,13,14,15,16,17,18,19,20,21,22,23,24,25,26,27,28,29,30],"gridColor":"#d6d6d6","zindex":0}},
"y":{"field":"v","type":"quantitative","scale":{"domain":[-100,0],"nice":false,"zero":false},"axis":{"orient":"left","grid":true,"labels":false,"ticks":false,"domain":false,"title":null,"values":[-100,-90,-80,-70,-60,-50,-40,-30,-20,-10,0],"gridColor":"#d6d6d6","zindex":0}}}},
{"data":{"values":[{}]},"mark":{"type":"rect","fill":"transparent","stroke":"#a0a0a0","strokeWidth":1.5,"cornerRadius":5},
"encoding":{
"x":{"datum":-1.5318,"axis":{"orient":"bottom","grid":false,"title":null,"values":[0,1,2,3,4,5,6,7,8,9,10,11,12,13,14,15,16,17,18,19,20,21,22,23,24,25,26,27,28,29,30],"tickSize":9,"labelPadding":2,"domainColor":"#7a7a7a","domainWidth":1,"zindex":1}},
"x2":{"datum":30.78},
"y":{"datum":6.4,"axis":{"orient":"left","grid":false,"title":null,"values":[-100,-90,-80,-70,-60,-50,-40,-30,-20,-10,0],"tickSize":9,"labelPadding":3,"domainColor":"#3c3c3c","domainWidth":1.5,"labelExpr":"'' + datum.value","zindex":1}},
"y2":{"datum":-115.2}}},
{"data":{"values":[{"txt":"Zoom"}]},"mark":{"type":"text","fontSize":13,"align":"left","baseline":"middle"},"encoding":{"x":{"datum":-1.5607,"axis":null},"y":{"datum":10.8,"axis":null},"text":{"field":"txt"}}}
]
},
{
"width":112,"height":250,
"view":{"stroke":null},
"data":{"name":"info2"},
"layer":[
{"mark":{"type":"rect","fill":"#e1e1e1","stroke":"#b4b4b4","strokeWidth":1,"yOffset":12,"y2Offset":36},"encoding":{"x":{"datum":0,"scale":{"domain":[0,112],"nice":false,"zero":false},"axis":null},"x2":{"datum":112},"y":{"field":"line","type":"quantitative","scale":{"domain":[0.228,5.409],"reverse":true,"nice":false,"zero":false},"axis":null},"y2":{"field":"line"}}},
{"mark":{"type":"text","fontSize":13.5,"align":"left","baseline":"middle"},"encoding":{"x":{"datum":2,"axis":null},"y":{"field":"line","type":"quantitative","axis":null},"text":{"field":"item"}}},
{"mark":{"type":"text","fontSize":13,"align":"left","baseline":"middle","yOffset":24},"encoding":{"x":{"datum":5,"axis":null},"y":{"field":"line","type":"quantitative","axis":null},"text":{"field":"value"}}}
]
}
],
"config":{
"font":"Noto Sans",
"axis":{"labelFont":"Noto Sans","labelFontSize":12.5,"labelColor":"#1e1e3c","labelFlush":false,"labelOverlap":false,"tickColor":"#3a3a3a","tickWidth":1.5,"gridColor":"#d6d6d6","gridWidth":1},
"text":{"font":"Noto Sans","fontSize":13,"color":"#1e1e3c"}
}
}
